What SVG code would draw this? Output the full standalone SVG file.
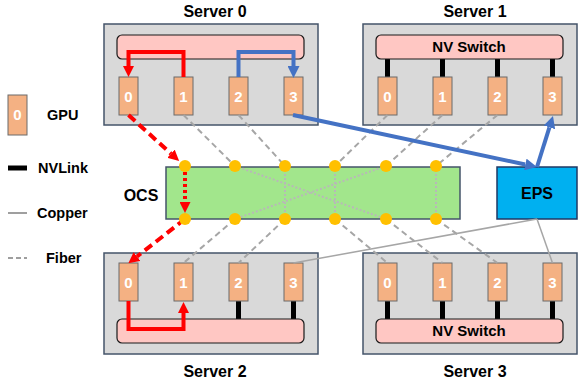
<svg xmlns="http://www.w3.org/2000/svg" width="578" height="383" viewBox="0 0 578 383">
<style>
text{font-family:"Liberation Sans",Arial,sans-serif;font-weight:bold;fill:#000}
.srv{fill:#D9D9D9;stroke:#44546A;stroke-width:1.5}
.sw{fill:#FFC7C3;stroke:#1a1a1a;stroke-width:1.2}
.gpu{fill:#F4B183;stroke:#6b6b6b;stroke-width:1}
.gl{fill:#fff;font-size:15px;text-anchor:middle}
.lbl{font-size:16px;text-anchor:middle}
.swl{font-size:15px;text-anchor:middle}
.leg{font-size:14.5px}
.nvl{stroke:#000;stroke-width:5}
.fib{stroke:#A6A6A6;stroke-width:2;stroke-dasharray:6 4;fill:none}
.cu{stroke:#A6A6A6;stroke-width:1.5;fill:none}
.xc{stroke:#B8B8B8;stroke-width:2;stroke-dasharray:2 2;fill:none}
.red{stroke:#FF0000;stroke-width:4;fill:none}
.blue{stroke:#4472C4;stroke-width:4;fill:none}
.dot{fill:#FFC000}
</style>
<defs>
<marker id="ar" markerUnits="userSpaceOnUse" markerWidth="11" markerHeight="11" viewBox="0 0 10 10" refX="0" refY="5" orient="auto"><path d="M0,0 L10,5 L0,10 z" fill="#FF0000"/></marker>
<marker id="ab" markerUnits="userSpaceOnUse" markerWidth="12" markerHeight="12" viewBox="0 0 10 10" refX="0" refY="5" orient="auto"><path d="M0,0 L10,5 L0,10 z" fill="#4472C4"/></marker>
</defs>

<!-- Servers -->
<g id="server0">
<rect class="srv" x="104" y="24" width="214" height="101"/>
<rect class="sw" x="117" y="35" width="187" height="24" rx="5"/>
<rect class="gpu" x="119" y="77" width="19" height="38"/><text class="gl" x="128.5" y="102">0</text>
<rect class="gpu" x="174" y="77" width="19" height="38"/><text class="gl" x="183.5" y="102">1</text>
<rect class="gpu" x="229" y="77" width="19" height="38"/><text class="gl" x="238.5" y="102">2</text>
<rect class="gpu" x="284" y="77" width="19" height="38"/><text class="gl" x="293.5" y="102">3</text>
<text class="lbl" x="215" y="17">Server 0</text>
</g>
<g id="server1">
<rect class="srv" x="363" y="24" width="214" height="101"/>
<line class="nvl" x1="387.5" y1="59" x2="387.5" y2="77"/>
<line class="nvl" x1="442.5" y1="59" x2="442.5" y2="77"/>
<line class="nvl" x1="497.5" y1="59" x2="497.5" y2="77"/>
<line class="nvl" x1="552.5" y1="59" x2="552.5" y2="77"/>
<rect class="sw" x="376" y="35" width="187" height="24" rx="5"/>
<text class="swl" x="469" y="52">NV Switch</text>
<rect class="gpu" x="378" y="77" width="19" height="38"/><text class="gl" x="387.5" y="102">0</text>
<rect class="gpu" x="433" y="77" width="19" height="38"/><text class="gl" x="442.5" y="102">1</text>
<rect class="gpu" x="488" y="77" width="19" height="38"/><text class="gl" x="497.5" y="102">2</text>
<rect class="gpu" x="543" y="77" width="19" height="38"/><text class="gl" x="552.5" y="102">3</text>
<text class="lbl" x="475" y="17">Server 1</text>
</g>
<g id="server2">
<rect class="srv" x="104" y="253" width="214" height="101"/>
<line class="nvl" x1="238.5" y1="301" x2="238.5" y2="319"/>
<line class="nvl" x1="293.5" y1="301" x2="293.5" y2="319"/>
<rect class="sw" x="117" y="319" width="187" height="24" rx="5"/>
<rect class="gpu" x="119" y="263" width="19" height="38"/><text class="gl" x="128.5" y="288">0</text>
<rect class="gpu" x="174" y="263" width="19" height="38"/><text class="gl" x="183.5" y="288">1</text>
<rect class="gpu" x="229" y="263" width="19" height="38"/><text class="gl" x="238.5" y="288">2</text>
<rect class="gpu" x="284" y="263" width="19" height="38"/><text class="gl" x="293.5" y="288">3</text>
<text class="lbl" x="215" y="377">Server 2</text>
</g>
<g id="server3">
<rect class="srv" x="363" y="253" width="214" height="101"/>
<line class="nvl" x1="387.5" y1="301" x2="387.5" y2="319"/>
<line class="nvl" x1="442.5" y1="301" x2="442.5" y2="319"/>
<line class="nvl" x1="497.5" y1="301" x2="497.5" y2="319"/>
<line class="nvl" x1="552.5" y1="301" x2="552.5" y2="319"/>
<rect class="sw" x="376" y="319" width="187" height="24" rx="5"/>
<text class="swl" x="469" y="336">NV Switch</text>
<rect class="gpu" x="378" y="263" width="19" height="38"/><text class="gl" x="387.5" y="288">0</text>
<rect class="gpu" x="433" y="263" width="19" height="38"/><text class="gl" x="442.5" y="288">1</text>
<rect class="gpu" x="488" y="263" width="19" height="38"/><text class="gl" x="497.5" y="288">2</text>
<rect class="gpu" x="543" y="263" width="19" height="38"/><text class="gl" x="552.5" y="288">3</text>
<text class="lbl" x="475" y="377">Server 3</text>
</g>

<!-- OCS -->
<g id="ocs">
<rect x="166" y="167" width="294" height="52" fill="#A2E68C" stroke="#44546A" stroke-width="1.5"/>
<line class="xc" x1="235" y1="166" x2="386" y2="219"/>
<line class="xc" x1="386" y1="166" x2="235" y2="219"/>
<line class="xc" x1="285" y1="166" x2="285" y2="219"/>
<line class="xc" x1="335" y1="166" x2="335" y2="219"/>
<line class="xc" x1="436" y1="166" x2="436" y2="219"/>
<text class="lbl" x="141" y="201">OCS</text>
</g>

<!-- EPS -->
<g id="eps">
<rect x="497" y="167" width="80" height="52" fill="#00B0F0" stroke="#1F3864" stroke-width="1.5"/>
<text class="lbl" x="537" y="199">EPS</text>
</g>

<!-- Connectors -->
<g id="connectors">
<line class="fib" x1="183.5" y1="115" x2="235" y2="166"/>
<line class="fib" x1="238.5" y1="115" x2="285" y2="166"/>
<line class="fib" x1="387.5" y1="115" x2="335" y2="166"/>
<line class="fib" x1="442.5" y1="115" x2="386" y2="166"/>
<line class="fib" x1="497.5" y1="115" x2="436" y2="166"/>
<line class="fib" x1="235" y1="219" x2="183.5" y2="263"/>
<line class="fib" x1="285" y1="219" x2="238.5" y2="263"/>
<line class="fib" x1="335" y1="219" x2="387.5" y2="263"/>
<line class="fib" x1="386" y1="219" x2="442.5" y2="263"/>
<line class="fib" x1="436" y1="219" x2="497.5" y2="263"/>
<line class="cu" x1="537" y1="219" x2="293.5" y2="263"/>
<line class="cu" x1="537" y1="219" x2="552.5" y2="263"/>
<path class="red" d="M183.5,77 V52 H128.5 V66" marker-end="url(#ar)"/>
<path class="blue" d="M238.5,77 V52 H293.5 V66" marker-end="url(#ab)"/>
<path class="red" d="M128.5,301 V329 H183.5 V313" marker-end="url(#ar)"/>
<path class="red" stroke-dasharray="9 5" d="M128.5,115 L171,153.7" marker-end="url(#ar)"/>
<path class="red" stroke-width="3.5" stroke-dasharray="3 3" d="M185,172 V202" marker-end="url(#ar)"/>
<path class="red" stroke-dasharray="9 5" d="M185,219 L137,256.5" marker-end="url(#ar)"/>
<path class="blue" d="M293,115 L525.3,164.5" marker-end="url(#ab)"/>
<path class="blue" d="M537,167 L549.4,127.4" marker-end="url(#ab)"/>
</g>

<g id="ocs-ports">
<circle class="dot" cx="185" cy="166" r="6"/>
<circle class="dot" cx="235" cy="166" r="6"/>
<circle class="dot" cx="285" cy="166" r="6"/>
<circle class="dot" cx="335" cy="166" r="6"/>
<circle class="dot" cx="386" cy="166" r="6"/>
<circle class="dot" cx="436" cy="166" r="6"/>
<circle class="dot" cx="185" cy="219" r="6"/>
<circle class="dot" cx="235" cy="219" r="6"/>
<circle class="dot" cx="285" cy="219" r="6"/>
<circle class="dot" cx="335" cy="219" r="6"/>
<circle class="dot" cx="386" cy="219" r="6"/>
<circle class="dot" cx="436" cy="219" r="6"/>
</g>

<!-- Legend -->
<g id="legend">
<rect class="gpu" x="8" y="95" width="19" height="40"/><text class="gl" x="17.5" y="120">0</text>
<text class="leg" x="47" y="120">GPU</text>
<line class="nvl" x1="8" y1="168" x2="27" y2="168"/>
<text class="leg" x="38" y="173">NVLink</text>
<line x1="8" y1="213" x2="27" y2="213" stroke="#7F7F7F" stroke-width="1.5"/>
<text class="leg" x="37" y="218">Copper</text>
<line x1="8" y1="258" x2="27" y2="258" stroke="#7F7F7F" stroke-width="1.5" stroke-dasharray="5 3"/>
<text class="leg" x="46" y="263">Fiber</text>
</g>
</svg>
